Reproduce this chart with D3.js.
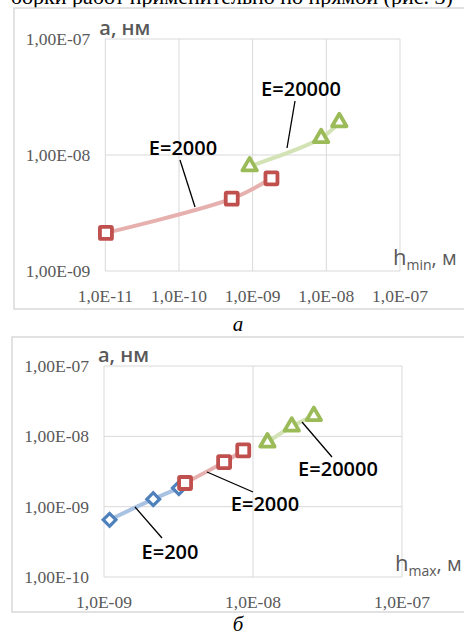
<!DOCTYPE html>
<html>
<head>
<meta charset="utf-8">
<script src="https://d3js.org/d3.v7.min.js"></script>
<style>
    body { margin: 0; background: #fff; }
    svg { display: block; }
    .tick-lab { font-family: "Liberation Serif", serif; font-size: 17.5px; fill: #595959; }
    .ax-title { font-family: "Open Sans", sans-serif; font-size: 20px; font-weight: 600; fill: #595959; }
    .note { font-family: "Open Sans", sans-serif; font-size: 20px; font-weight: 600; fill: #000; }
    .caption { font-family: "Liberation Serif", serif; font-size: 21px; font-style: italic; fill: #000; }
</style>
</head>
<body>
<script>
// panel a: a vs h_min
var aX2000 = [1.02e-11, 5.2e-10, 1.8e-9];
var aY2000 = [2.13e-9, 4.2e-9, 6.3e-9];
var aX20000 = [9.1e-10, 8.5e-9, 1.5e-8];
var aY20000 = [8.0e-9, 1.4e-8, 1.92e-8];
var aXTicks = [1e-11, 1e-10, 1e-9, 1e-8, 1e-7];
var aYTicks = [1e-9, 1e-8, 1e-7];

// panel b: a vs h_max
var bX200 = [1.09e-9, 2.14e-9, 3.18e-9];
var bY200 = [6.5e-10, 1.28e-9, 1.84e-9];
var bX2000 = [3.5e-9, 6.4e-9, 8.6e-9];
var bY2000 = [2.17e-9, 4.3e-9, 6.3e-9];
var bX20000 = [1.25e-8, 1.82e-8, 2.56e-8];
var bY20000 = [8.2e-9, 1.38e-8, 1.95e-8];
var bXTicks = [1e-9, 1e-8, 1e-7];
var bYTicks = [1e-10, 1e-9, 1e-8, 1e-7];

var seriesLabels = ["E=200", "E=2000", "E=20000"];

var W = 464, H = 635;
var svg = d3.select("body").append("svg").attr("width", W).attr("height", H);

// line of body text above the figure, cut by the page top as in the scan
svg.append("text")
    .attr("x", -2).attr("y", 4)
    .style("font-family", "Liberation Serif, serif").style("font-size", "22px")
    .text("- борки работ применительно по прямой (рис. 3)");

var style = {
    red: { mark: "#c0504d", line: "#e6b0ae", shape: "square" },
    green: { mark: "#9bbb59", line: "#d3e3b5", shape: "triangle" },
    blue: { mark: "#4f81bd", line: "#a9c2e2", shape: "diamond" }
};

function pow10Label(d, digits) {
    var e = Math.round(-Math.log10(d));
    return digits + "E-" + (e < 10 ? "0" + e : e);
}

function zip(xs, ys) {
    return xs.map(function (x, i) { return { x: x, y: ys[i] }; });
}

function drawPanel(p) {
    var g = svg.append("g");

    g.append("rect")
        .attr("x", p.frame[0]).attr("y", p.frame[1])
        .attr("width", p.frame[2]).attr("height", p.frame[3])
        .attr("fill", "#fff").attr("stroke", "#d9d9d9").attr("stroke-width", 1.5);

    var x = d3.scaleLog().domain(p.xDomain).range(p.xRange);
    var y = d3.scaleLog().domain(p.yDomain).range(p.yRange);

    // grid
    g.selectAll(".gx").data(p.xTicks).enter().append("line")
        .attr("x1", function (d) { return x(d); }).attr("x2", function (d) { return x(d); })
        .attr("y1", p.yRange[0]).attr("y2", p.yRange[1])
        .attr("stroke", "#d9d9d9").attr("stroke-width", 1);
    g.selectAll(".gy").data(p.yTicks).enter().append("line")
        .attr("y1", function (d) { return y(d); }).attr("y2", function (d) { return y(d); })
        .attr("x1", p.xRange[0]).attr("x2", p.xRange[1])
        .attr("stroke", "#d9d9d9").attr("stroke-width", 1);

    // tick labels
    g.selectAll(".ty").data(p.yTicks).enter().append("text")
        .attr("class", "tick-lab")
        .attr("x", p.xRange[0] - 15).attr("y", function (d) { return y(d); })
        .attr("dy", "0.35em").attr("text-anchor", "end")
        .text(function (d) { return pow10Label(d, "1,00"); });
    g.selectAll(".tx").data(p.xTicks).enter().append("text")
        .attr("class", "tick-lab")
        .attr("x", function (d) { return x(d); }).attr("y", p.yRange[0] + 25)
        .attr("dy", "0.35em").attr("text-anchor", "middle")
        .text(function (d) { return pow10Label(d, "1,0"); });

    // axis titles
    g.append("text").attr("class", "ax-title")
        .attr("x", p.xRange[0] - 6).attr("y", p.yRange[1] - 4)
        .text("а, нм");
    var ht = g.append("text").attr("class", "ax-title")
        .attr("x", p.xRange[1] - 7).attr("y", p.yRange[0] - 6);
    ht.append("tspan").style("font-size", "22px").style("font-weight", 400).text("h");
    ht.append("tspan").attr("dy", 5).style("font-size", "14px").style("font-weight", 400).text(p.sub);
    ht.append("tspan").attr("dy", -5).style("font-weight", 400).text(", м");

    var line = d3.line()
        .x(function (d) { return x(d.x); })
        .y(function (d) { return y(d.y); })
        .curve(d3.curveCatmullRom.alpha(0.5));

    p.series.forEach(function (s) {
        var st = style[s.color];
        var pts = zip(s.xs, s.ys);
        g.append("path").datum(pts)
            .attr("d", line)
            .attr("fill", "none").attr("stroke", st.line)
            .attr("stroke-width", 4).attr("stroke-linecap", "round");

        var m = g.selectAll(null).data(pts).enter();
        if (st.shape === "square") {
            m.append("rect")
                .attr("x", function (d) { return x(d.x) - 6; })
                .attr("y", function (d) { return y(d.y) - 6; })
                .attr("width", 12).attr("height", 12).attr("rx", 1)
                .attr("fill", "#fff").attr("stroke", st.mark).attr("stroke-width", 3.8);
        } else if (st.shape === "triangle") {
            m.append("path")
                .attr("d", d3.symbol().type(d3.symbolTriangle).size(90))
                .attr("transform", function (d) { return "translate(" + x(d.x) + "," + y(d.y) + ")"; })
                .attr("fill", "#fff").attr("stroke", st.mark).attr("stroke-width", 3.8)
                .attr("stroke-linejoin", "round");
        } else {
            m.append("rect")
                .attr("x", -4.5).attr("y", -4.5).attr("width", 9).attr("height", 9)
                .attr("transform", function (d) { return "translate(" + x(d.x) + "," + y(d.y) + ") rotate(45)"; })
                .attr("fill", "#fff").attr("stroke", st.mark).attr("stroke-width", 3.2);
        }
    });

    // data labels with leader lines
    p.notes.forEach(function (n) {
        g.append("line")
            .attr("x1", n.from[0]).attr("y1", n.from[1])
            .attr("x2", n.to[0]).attr("y2", n.to[1])
            .attr("stroke", "#000").attr("stroke-width", 1.3);
        g.append("text").attr("class", "note")
            .attr("x", n.at[0]).attr("y", n.at[1])
            .attr("dy", "0.35em").attr("text-anchor", "middle")
            .text(n.text);
    });
}

drawPanel({
    frame: [14, 8, 480, 301],
    xDomain: [1e-11, 1e-7], xRange: [105.3, 400],
    yDomain: [1e-9, 1e-7], yRange: [271, 39],
    xTicks: aXTicks, yTicks: aYTicks, sub: "min",
    series: [
        { color: "red", xs: aX2000, ys: aY2000 },
        { color: "green", xs: aX20000, ys: aY20000 }
    ],
    notes: [
        { text: seriesLabels[2], at: [301, 89], from: [295, 101], to: [287, 148] },
        { text: seriesLabels[1], at: [183, 148], from: [180, 160], to: [195, 207] }
    ]
});

drawPanel({
    frame: [12, 337, 480, 275],
    xDomain: [1e-9, 1e-7], xRange: [104, 402],
    yDomain: [1e-10, 1e-7], yRange: [577, 366],
    xTicks: bXTicks, yTicks: bYTicks, sub: "max",
    series: [
        { color: "blue", xs: bX200, ys: bY200 },
        { color: "red", xs: bX2000, ys: bY2000 },
        { color: "green", xs: bX20000, ys: bY20000 }
    ],
    notes: [
        { text: seriesLabels[2], at: [338, 469], from: [302, 422], to: [332, 457] },
        { text: seriesLabels[1], at: [265, 504], from: [207, 472], to: [253, 492] },
        { text: seriesLabels[0], at: [170, 552], from: [135, 507], to: [162, 538] }
    ]
});

svg.append("text").attr("class", "caption")
    .attr("x", 238).attr("y", 331).attr("text-anchor", "middle").text("а");
svg.append("text").attr("class", "caption")
    .attr("x", 238).attr("y", 631).attr("text-anchor", "middle").text("б");
</script>
</body>
</html>
